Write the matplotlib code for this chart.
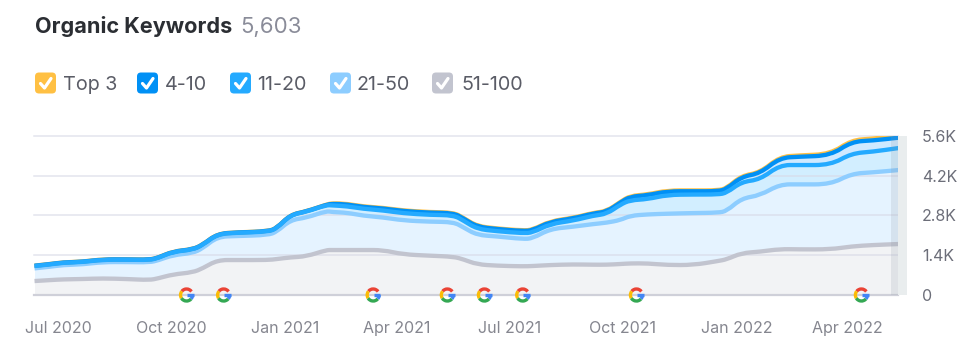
import numpy as np
import pandas as pd
import matplotlib.pyplot as plt
import matplotlib.dates as mdates
from matplotlib.patches import Arc, FancyBboxPatch, PathPatch
from matplotlib.path import Path

plt.rcParams['font.family'] = ['Inter', 'DejaVu Sans']

# values (cumulative, as drawn)
dates = pd.to_datetime([
    '2020-06-12', '2020-06-25', '2020-07-05', '2020-07-21', '2020-08-06', '2020-08-26',
    '2020-09-13', '2020-09-20', '2020-10-02', '2020-10-18', '2020-10-26', '2020-11-07',
    '2020-11-23', '2020-12-18', '2020-12-25', '2021-01-05', '2021-01-18', '2021-02-03',
    '2021-02-08', '2021-02-20', '2021-03-05', '2021-03-21', '2021-04-06', '2021-04-28',
    '2021-05-17', '2021-05-25', '2021-06-05', '2021-06-21', '2021-07-12', '2021-07-20',
    '2021-08-03', '2021-08-22', '2021-09-07', '2021-09-18', '2021-09-29',
    '2021-10-07', '2021-10-21', '2021-11-06', '2021-11-27', '2021-12-17', '2021-12-24',
    '2022-01-05', '2022-01-20', '2022-02-05', '2022-02-21', '2022-03-18', '2022-04-04',
    '2022-04-21', '2022-05-12'])

top3 = [1026, 1085, 1144, 1167, 1250, 1250, 1238, 1309, 1532, 1603, 1767, 2155,
        2202, 2238, 2355, 2826, 2943, 3180,
        3230, 3207, 3113, 3066, 2972, 2913, 2901, 2713, 2419, 2337, 2266, 2290,
        2595, 2713, 2889, 2948, 3278,
        3490, 3537, 3680, 3680, 3680, 3760, 4200, 4310, 4869, 4916, 4963, 5457, 5504, 5610]
pos4_10 = [1021, 1080, 1139, 1162, 1245, 1245, 1233, 1304, 1527, 1598, 1762, 2150,
           2197, 2233, 2350, 2821, 2938, 3175,
           3210, 3187, 3093, 3046, 2952, 2893, 2881, 2693, 2399, 2317, 2246, 2270,
           2575, 2693, 2869, 2928, 3258,
           3462, 3509, 3650, 3650, 3650, 3733, 4163, 4281, 4830, 4870, 4910, 5400, 5440, 5540]
pos11_20 = [1011, 1070, 1129, 1152, 1235, 1235, 1223, 1294, 1517, 1588, 1752, 2140,
            2187, 2223, 2340, 2811, 2928, 3163,
            3150, 3120, 3030, 2975, 2875, 2815, 2805, 2615, 2320, 2240, 2170, 2190,
            2495, 2615, 2790, 2850, 3180,
            3335, 3370, 3523, 3535, 3535, 3594, 3982, 4064, 4575, 4575, 4575, 4986, 5045, 5174]
pos21_50 = [929, 988, 1047, 1070, 1152, 1152, 1141, 1211, 1399, 1470, 1635, 2046,
            2070, 2105, 2223, 2634, 2717, 2952,
            2916, 2893, 2787, 2728, 2622, 2575, 2564, 2376, 2105, 2058, 1964, 1987,
            2317, 2399, 2493, 2540, 2634,
            2787, 2834, 2858, 2881, 2893, 2952, 3399, 3504, 3893, 3893, 3893, 4269, 4316, 4398]
pos51_100 = [482, 517, 541, 553, 576, 553, 517, 576, 717, 788, 929, 1223,
             1223, 1223, 1258, 1317, 1352, 1576,
             1576, 1576, 1576, 1576, 1423, 1376, 1341, 1247, 1070, 1023, 1000, 1011,
             1047, 1070, 1058, 1058, 1082,
             1105, 1105, 1047, 1047, 1188, 1247, 1470, 1517, 1611, 1599, 1599, 1705, 1752, 1788]

legend_labels = ['Top 3', '4-10', '11-20', '21-50', '51-100']
yticks = [0, 1400, 2800, 4200, 5600]
ytick_labels = ['0', '1.4K', '2.8K', '4.2K', '5.6K']
xticks = pd.to_datetime(['2020-07-01', '2020-10-01', '2021-01-01', '2021-04-01',
                         '2021-07-01', '2021-10-01', '2022-01-01', '2022-04-01'])
xtick_labels = ['Jul 2020', 'Oct 2020', 'Jan 2021', 'Apr 2021',
                'Jul 2021', 'Oct 2021', 'Jan 2022', 'Apr 2022']
google_updates = pd.to_datetime(['2020-10-13', '2020-11-12', '2021-03-13', '2021-05-12',
                                 '2021-06-11', '2021-07-12', '2021-10-12', '2022-04-12'])

# graph colors
Top3Color = '#ffc043'
Pos4Color = '#0090f5'
Pos11Color = '#24aaff'
Pos21Color = '#8dcdff'
Pos51Color = '#c2c4cf'
TextColor = '#6c6e79'

W, H = 977, 357
fig = plt.figure(figsize=(W / 100, H / 100), dpi=100)

# chart axes, 34..907 px wide, 5.6K at 136 px and 0 at 294.7 px
ax = fig.add_axes([34 / W, 1 - 294.7 / H, (907 - 34) / W, (294.7 - 136) / H])
day = pd.Timedelta(days=1)
x_left = pd.Timestamp('2020-07-01') - 24 / 1.236 * day
x_right = pd.Timestamp('2020-07-01') + (907 - 58) / 1.236 * day
x_end = pd.Timestamp('2022-05-12')
ax.set_xlim(x_left, x_right)
ax.set_ylim(0, 5600)
for s in ax.spines.values():
    s.set_visible(False)

ax.fill_between(dates, 0, pos51_100, color='#f2f3f5', lw=0, zorder=1)
ax.fill_between(dates, pos51_100, pos21_50, color='#e5f3ff', lw=0, zorder=1)
ax.fill_between(dates, pos21_50, pos11_20, color='#d2eeff', lw=0, zorder=1)
ax.fill_between(dates, pos11_20, pos4_10, color='#cfe9ff', lw=0, zorder=1)

for y in yticks[1:]:
    ax.plot([x_left, x_end], [y, y], color='#d8d9e6', alpha=.7, lw=1.1, zorder=2, clip_on=False)
ax.plot([x_left, x_end], [0, 0], color='#cfd0d9', lw=1.6, zorder=2, clip_on=False)


# rounded line through the read points, the chart has no hard corners
def add_curve(values, color, z):
    xs = mdates.date2num(dates)
    ys = np.array(values, dtype=float)
    verts = [(xs[0], ys[0])]
    codes = [Path.MOVETO]
    for i in range(1, len(xs) - 1):
        verts += [(xs[i], ys[i]), ((xs[i] + xs[i + 1]) / 2, (ys[i] + ys[i + 1]) / 2)]
        codes += [Path.CURVE3, Path.CURVE3]
    verts.append((xs[-1], ys[-1]))
    codes.append(Path.LINETO)
    ax.add_patch(PathPatch(Path(verts, codes), fc='none', ec=color, lw=3.1, zorder=z,
                           capstyle='butt', joinstyle='round'))


add_curve(pos51_100, Pos51Color, 3)
add_curve(pos21_50, Pos21Color, 4)
add_curve(top3, Top3Color, 5)
add_curve(pos4_10, Pos4Color, 6)
add_curve(pos11_20, Pos11Color, 7)

# band at the right edge
ax.axvspan(x_end - 7 / 1.236 * day, x_end, color='#8d9aa5', alpha=.18, lw=0, zorder=8)
ax.axvspan(x_end, x_right, color='#e9edee', lw=0, zorder=8)

ax.set_xticks(xticks)
ax.set_xticklabels(xtick_labels, fontsize=11.5, color='#85868f')
ax.set_yticks(yticks)
ax.set_yticklabels(ytick_labels, fontsize=11.5, color=TextColor, ha='left')
ax.yaxis.tick_right()
ax.tick_params(axis='x', length=0, pad=19)
ax.tick_params(axis='y', length=0, pad=10.7)

# overlay in pixels for title, legend and google icons
ov = fig.add_axes([0, 0, 1, 1], facecolor='none')
ov.set_xlim(0, W)
ov.set_ylim(H, 0)
ov.axis('off')

ov.text(35, 33, 'Organic Keywords', fontsize=15.6, fontweight='bold', color='#2b2e33', va='baseline')
ov.text(240, 33, '5,603', fontsize=16, color='#8a8c99', va='baseline')

box_x = [35, 137, 230, 330, 432]
text_x = [63, 165, 257, 357, 461]
box_colors = [Top3Color, Pos4Color, Pos11Color, Pos21Color, Pos51Color]
for bx, tx, c, lab in zip(box_x, text_x, box_colors, legend_labels):
    ov.add_patch(FancyBboxPatch((bx + 3, 75.5), 15, 15, boxstyle='round,pad=3,rounding_size=4',
                                fc=c, ec='none'))
    ov.plot([bx + 5.5, bx + 9.5, bx + 16], [83.5, 88, 78.5], color='white', lw=2.3,
            solid_capstyle='round', solid_joinstyle='round')
    ov.text(tx, 90, lab, fontsize=14.2, color='#5a5c66', va='baseline')


def google_icon(px, py):
    d = 12
    # y runs downward here, so angles are mirrored
    ov.add_patch(Arc((px, py), d, d, theta1=218, theta2=325, color='#ea4335', lw=2.4))
    ov.add_patch(Arc((px, py), d, d, theta1=148, theta2=218, color='#fbbc05', lw=2.4))
    ov.add_patch(Arc((px, py), d, d, theta1=40, theta2=148, color='#34a853', lw=2.4))
    ov.add_patch(Arc((px, py), d, d, theta1=0, theta2=40, color='#4285f4', lw=2.4))
    ov.plot([px + 0.5, px + 7.2], [py, py], color='#4285f4', lw=2.4, solid_capstyle='butt')


for d in google_updates:
    gx = ax.transData.transform((mdates.date2num(d), 0))[0]
    google_icon(gx, 295)

fig.savefig('out.png', dpi=100)
plt.close()
